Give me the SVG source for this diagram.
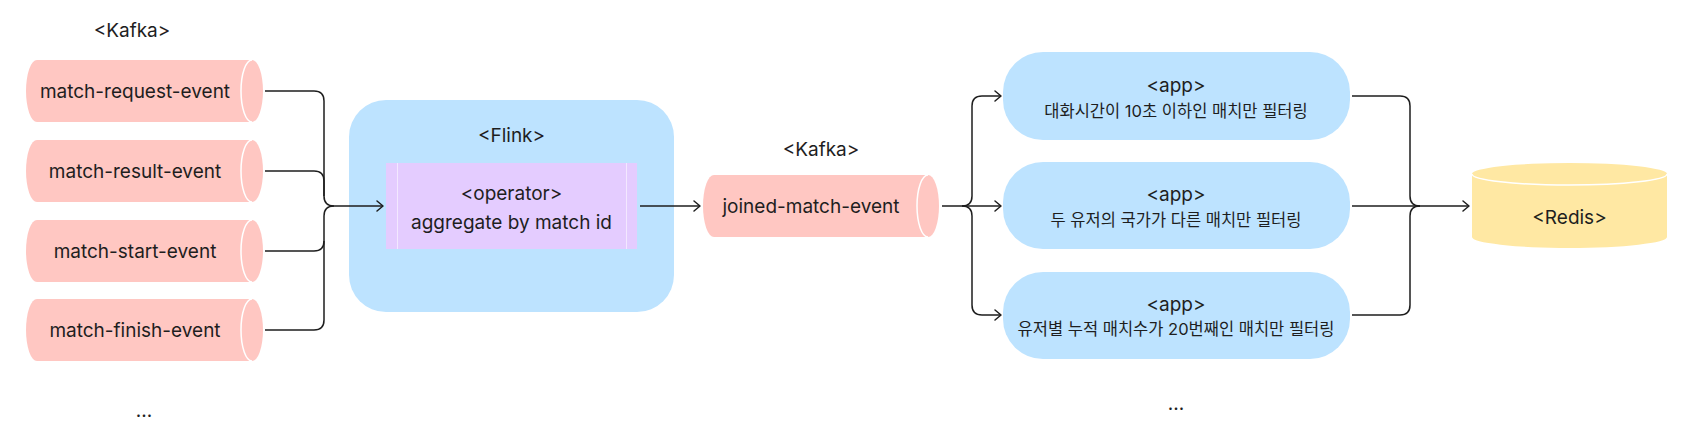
<svg xmlns="http://www.w3.org/2000/svg" width="1691" height="446" viewBox="0 0 1691 446">
<defs>
<marker id="arr" viewBox="-8 -7 10 14" markerWidth="10" markerHeight="14" refX="0" refY="0" orient="auto" markerUnits="userSpaceOnUse">
<path d="M -6 -5 L 0 0 L -6 5" fill="none" stroke="#1E1E1E" stroke-width="1.5" stroke-linecap="round" stroke-linejoin="round"/>
</marker>
</defs>
<style>
text{font-family:Inter,"Noto Sans","Noto Sans CJK KR",sans-serif;fill:#1E1E1E;text-anchor:middle;dominant-baseline:central}
.t{font-size:19px}
.k{font-size:16.5px;font-family:Inter,"Noto Sans CJK KR",sans-serif}
.pink{fill:#FFC7C2}
.cap{fill:none;stroke:#FFFFFF;stroke-width:1.5}
.blue{fill:#BDE3FF}
.conn{fill:none;stroke:#1E1E1E;stroke-width:1.5}
.arrow{marker-end:url(#arr)}
</style>
<rect width="1691" height="446" fill="#FFFFFF"/>
<text class="t" x="132" y="30">&lt;Kafka&gt;</text>
<g id="match-request-event">
<path class="pink" d="M 37 60 H 252 A 11 31 0 0 1 252 122 H 37 A 11 31 0 0 1 37 60 Z"/>
<path class="cap" d="M 252 60 A 11 31 0 0 0 252 122"/>
<text class="t" x="135" y="91">match-request-event</text>
</g>
<g id="match-result-event">
<path class="pink" d="M 37 140 H 252 A 11 31 0 0 1 252 202 H 37 A 11 31 0 0 1 37 140 Z"/>
<path class="cap" d="M 252 140 A 11 31 0 0 0 252 202"/>
<text class="t" x="135" y="171">match-result-event</text>
</g>
<g id="match-start-event">
<path class="pink" d="M 37 220 H 252 A 11 31 0 0 1 252 282 H 37 A 11 31 0 0 1 37 220 Z"/>
<path class="cap" d="M 252 220 A 11 31 0 0 0 252 282"/>
<text class="t" x="135" y="251">match-start-event</text>
</g>
<g id="match-finish-event">
<path class="pink" d="M 37 299 H 252 A 11 31 0 0 1 252 361 H 37 A 11 31 0 0 1 37 299 Z"/>
<path class="cap" d="M 252 299 A 11 31 0 0 0 252 361"/>
<text class="t" x="135" y="330">match-finish-event</text>
</g>
<text class="t" x="144" y="410">...</text>
<g id="flink">
<rect class="blue" x="349" y="100" width="325" height="212" rx="37"/>
<text class="t" x="511.5" y="135">&lt;Flink&gt;</text>
</g>
<g id="operator">
<rect x="386" y="163" width="251" height="86" fill="#E4CCFF"/>
<line x1="397.5" y1="163" x2="397.5" y2="249" stroke="#F3E8FF" stroke-width="1"/>
<line x1="626.5" y1="163" x2="626.5" y2="249" stroke="#F3E8FF" stroke-width="1"/>
<text class="t" x="511.5" y="193">&lt;operator&gt;</text>
<text class="t" x="511.5" y="222">aggregate by match id</text>
</g>
<text class="t" x="821" y="149">&lt;Kafka&gt;</text>
<g id="joined-match-event">
<path class="pink" d="M 714 175 H 928 A 11 31 0 0 1 928 237 H 714 A 11 31 0 0 1 714 175 Z"/>
<path class="cap" d="M 928 175 A 11 31 0 0 0 928 237"/>
<text class="t" x="811" y="206">joined-match-event</text>
</g>
<g id="app1">
<rect class="blue" x="1003" y="52" width="347" height="88" rx="40"/>
<text class="t" x="1176" y="85">&lt;app&gt;</text>
<text class="k" x="1176" y="111">대화시간이 10초 이하인 매치만 필터링</text>
</g>
<g id="app2">
<rect class="blue" x="1003" y="162" width="347" height="87" rx="40"/>
<text class="t" x="1176" y="194">&lt;app&gt;</text>
<text class="k" x="1176" y="220">두 유저의 국가가 다른 매치만 필터링</text>
</g>
<g id="app3">
<rect class="blue" x="1003" y="272" width="347" height="87" rx="40"/>
<text class="t" x="1176" y="304">&lt;app&gt;</text>
<text class="k" x="1176" y="329">유저별 누적 매치수가 20번째인 매치만 필터링</text>
</g>
<text class="t" x="1176" y="403">...</text>
<g id="redis">
<path d="M 1472 174 V 237 A 97.5 11 0 0 0 1667 237 V 174 A 97.5 11 0 0 0 1472 174 Z" fill="#FFE8A3"/>
<path class="cap" d="M 1472 174 A 97.5 11 0 0 0 1667 174"/>
<text class="t" x="1569.5" y="217">&lt;Redis&gt;</text>
</g>
<g id="connectors">
<path class="conn arrow" d="M 265 91 H 314 Q 324 91 324 101 V 196 Q 324 206 334 206 H 383"/>
<path class="conn" d="M 265 171 H 314 Q 324 171 324 181 V 196"/>
<path class="conn" d="M 265 251 H 314 Q 324 251 324 241 V 216 Q 324 206 334 206"/>
<path class="conn" d="M 265 330 H 314 Q 324 330 324 320 V 241"/>
<path class="conn arrow" d="M 640 206 H 700"/>
<path class="conn arrow" d="M 942 206 H 962 Q 972 206 972 196 V 106 Q 972 96 982 96 H 1001"/>
<path class="conn arrow" d="M 962 206 H 1001"/>
<path class="conn arrow" d="M 962 206 Q 972 206 972 216 V 305 Q 972 315 982 315 H 1001"/>
<path class="conn arrow" d="M 1352 96 H 1400 Q 1410 96 1410 106 V 196 Q 1410 206 1420 206 H 1469"/>
<path class="conn" d="M 1352 206 H 1420"/>
<path class="conn" d="M 1352 315 H 1400 Q 1410 315 1410 305 V 216 Q 1410 206 1420 206"/>
</g>
</svg>
